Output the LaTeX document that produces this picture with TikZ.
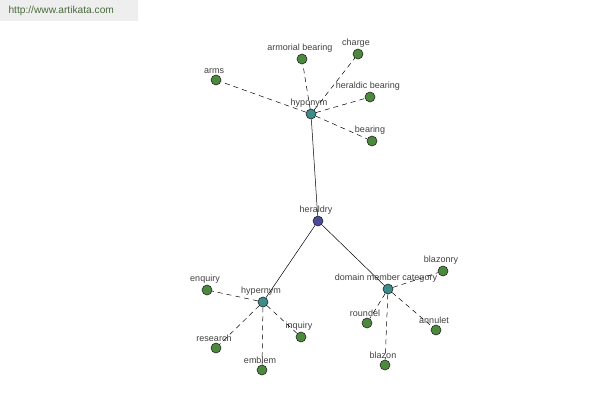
\documentclass[tikz,border=0pt]{standalone}
\usepackage{fontspec}
\setmainfont{Liberation Sans}
\definecolor{leafgreen}{HTML}{4B8A3C}
\definecolor{hubteal}{HTML}{3C8C8C}
\definecolor{rootblue}{HTML}{4A4A9A}
\definecolor{wmgrey}{HTML}{EEEEEE}
\definecolor{wmtext}{HTML}{4A6A3A}
\begin{document}
\begin{tikzpicture}[x=1pt,y=-1pt,font=\fontsize{9}{10}\selectfont,
  word/.style={circle,draw=black!85,line width=0.6pt,minimum size=10pt,inner sep=0pt,fill=leafgreen,
    label={[text=black!75,inner sep=1pt,label distance=0pt,xshift=-2pt]above:#1}},
  hub/.style={word=#1,fill=hubteal},
  root/.style={word=#1,fill=rootblue},
  rel/.style={line width=0.5pt},
  weak/.style={rel,dash pattern=on 5pt off 4pt}]
\useasboundingbox(0,0)rectangle(600,400);
% watermark
\fill[wmgrey](0,0)rectangle(138,21);
\node[text=wmtext,anchor=west,font=\fontsize{10.2}{12}\selectfont](wm)at(5,10.5){http://www.artikata.com};
% centre and hubs
\node[root=heraldry](heraldry)at(318,221){};
\node[hub=hyponym](hypo)at(311,114){};
\node[hub=hypernym](hyper)at(263,302){};
\node[hub=domain member category](dom)at(388,289){};
\foreach \n in {hypo,hyper,dom}{\draw[rel](heraldry)--(\n);}
% leaves
\node[word=arms](arms)at(216,80){};
\node[word=armorial bearing](armorial)at(302,59){};
\node[word=charge](charge)at(358,54){};
\node[word=heraldic bearing](heraldic)at(370,97){};
\node[word=bearing](bearing)at(372,141){};
\node[word=enquiry](enquiry)at(207,290){};
\node[word=research](research)at(216,348){};
\node[word=emblem](emblem)at(262,370){};
\node[word=inquiry](inquiry)at(301,337){};
\node[word=blazonry](blazonry)at(443,271){};
\node[word=roundel](roundel)at(367,323){};
\node[word=annulet](annulet)at(436,330){};
\node[word=blazon](blazon)at(385,365){};
\foreach \n in {arms,armorial,charge,heraldic,bearing}{\draw[weak](hypo)--(\n);}
\foreach \n in {enquiry,research,emblem,inquiry}{\draw[weak](hyper)--(\n);}
\foreach \n in {blazonry,roundel,annulet,blazon}{\draw[weak](dom)--(\n);}
\end{tikzpicture}
\end{document}
